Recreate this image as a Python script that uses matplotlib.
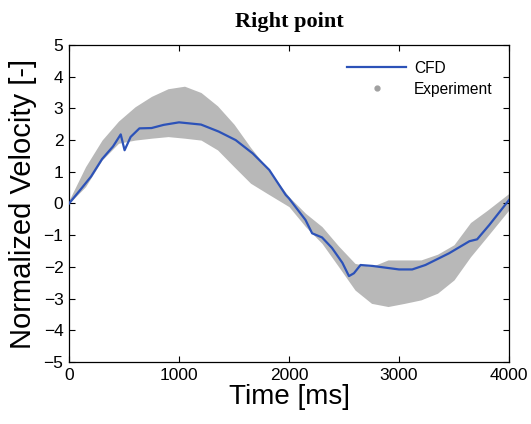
import matplotlib
matplotlib.use("Agg")
import matplotlib.pyplot as plt
from matplotlib.lines import Line2D

# CFD curve
cfd_time = [0, 100, 200, 300, 400, 470, 505, 560, 640, 750, 860, 1000, 1200, 1360,
            1515, 1670, 1820, 1970, 2000, 2150, 2210, 2300, 2390, 2485, 2545, 2590,
            2650, 2760, 3000, 3120, 3240, 3455, 3640, 3710, 3820, 4000]
cfd_vel = [0, 0.42, 0.85, 1.4, 1.8, 2.18, 1.68, 2.1, 2.37, 2.38, 2.48, 2.56, 2.49, 2.27,
           2.0, 1.58, 1.06, 0.27, 0.16, -0.52, -0.94, -1.07, -1.4, -1.87, -2.29, -2.2,
           -1.94, -1.97, -2.08, -2.08, -1.94, -1.57, -1.19, -1.13, -0.68, 0.11]

# Experiment band (envelope of the measured scatter)
exp_time = [0, 150, 300, 450, 600, 750, 900, 1050, 1200, 1350, 1500, 1650, 1800, 2000,
            2150, 2300, 2450, 2600, 2750, 2900, 3050, 3200, 3350, 3500, 3650, 3800, 4000]
exp_upper = [0.1, 1.16, 2.0, 2.6, 3.05, 3.38, 3.62, 3.7, 3.5, 3.08, 2.5, 1.77, 1.12, 0.21,
             -0.31, -0.73, -1.34, -1.89, -1.99, -1.78, -1.78, -1.78, -1.6, -1.3, -0.6, -0.22, 0.32]
exp_lower = [0.0, 0.53, 1.37, 1.9, 2.0, 2.06, 2.11, 2.06, 2.0, 1.69, 1.16, 0.64, 0.32, -0.1,
             -0.73, -1.26, -1.99, -2.73, -3.15, -3.25, -3.15, -3.04, -2.83, -2.41, -1.68, -1.05, -0.2]

x_ticks = [0, 1000, 2000, 3000, 4000]
y_ticks = [-5, -4, -3, -2, -1, 0, 1, 2, 3, 4, 5]

fig = plt.figure(figsize=(5.31, 4.24), dpi=100)
ax = fig.add_axes([0.130, 0.1462, 0.8286, 0.7477])

ax.fill_between(exp_time, exp_lower, exp_upper, color="#b8b8b8", linewidth=0, zorder=1)
ax.plot(cfd_time, cfd_vel, color="#2c52b8", linewidth=1.6, zorder=3)

ax.set_xlim(0, 4000)
ax.set_ylim(-5, 5)
ax.set_xticks(x_ticks)
ax.set_yticks(y_ticks)
ax.tick_params(direction="in", top=True, right=True, length=4, width=0.8,
               labelsize=12.5, pad=4)
for lab in ax.get_xticklabels() + ax.get_yticklabels():
    lab.set_family("Liberation Sans")
for s in ax.spines.values():
    s.set_linewidth(0.9)

ax.set_xlabel("Time [ms]", fontsize=20, family="Liberation Sans", labelpad=1)
ax.set_ylabel("Normalized Velocity [-]", fontsize=21, family="Liberation Sans", labelpad=5)
ax.set_title("Right point", fontsize=16, family="Liberation Serif", fontweight="bold", pad=13)

handles = [Line2D([], [], color="#2c52b8", linewidth=1.6),
           Line2D([], [], color="#a0a0a0", marker="o", markersize=3.5, linestyle="none")]
ax.legend(handles, ["CFD", "Experiment"], loc="upper right", frameon=False,
          prop={"family": "Liberation Sans", "size": 11.2}, handlelength=3.8,
          handletextpad=0.5, bbox_to_anchor=(0.995, 0.995),
          labelspacing=0.4)

fig.savefig("out.png", dpi=100)
